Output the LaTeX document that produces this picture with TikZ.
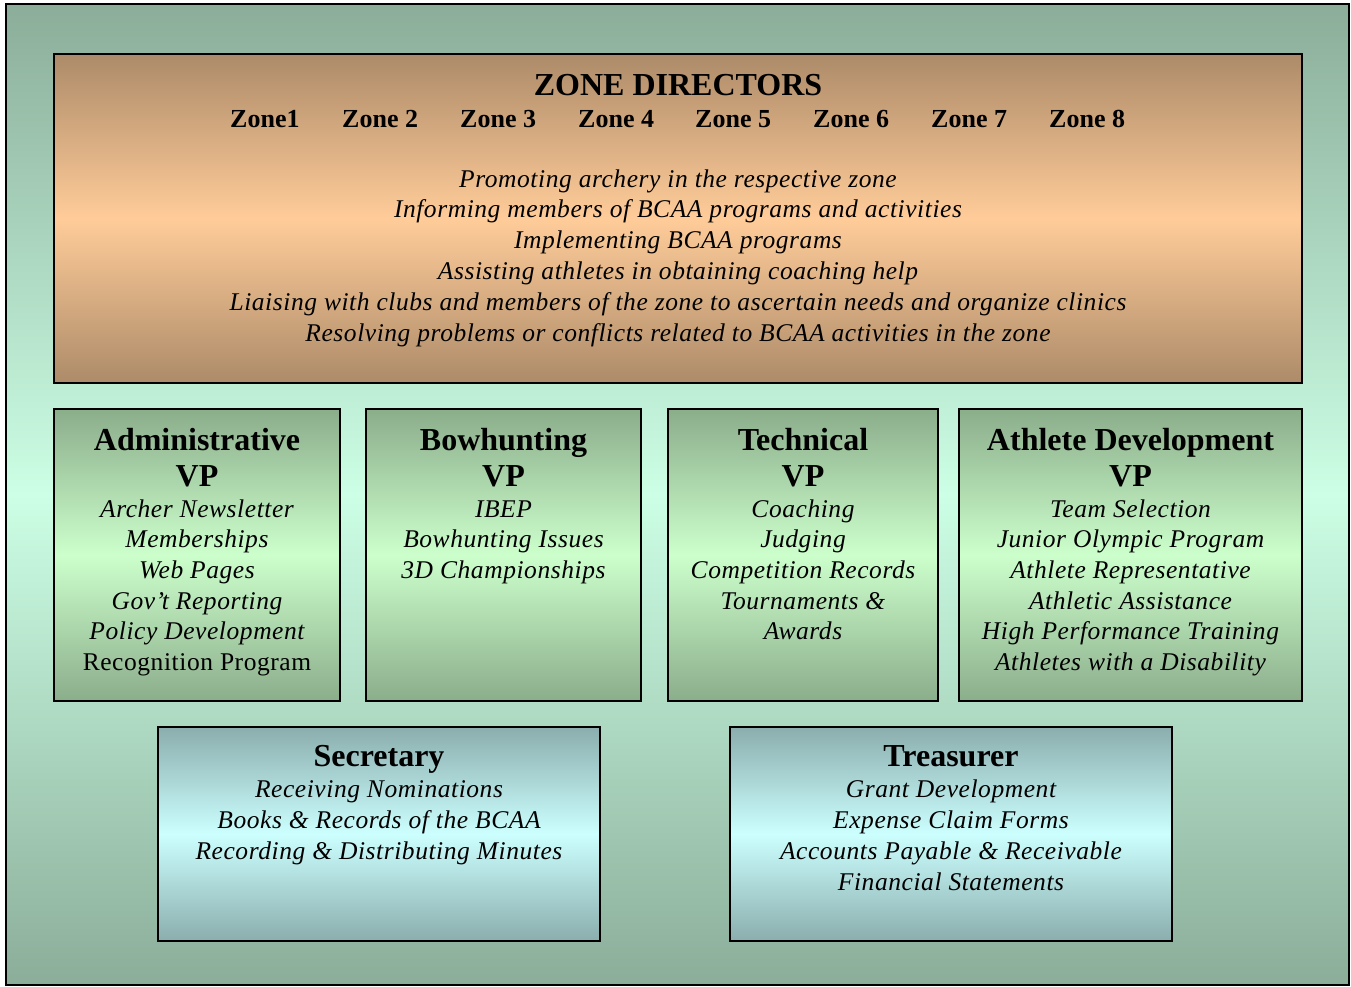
\documentclass[tikz,border=0pt]{standalone}
\usepackage{fontspec}
\setmainfont{Liberation Serif}
\newfontfamily\spacedserif{Liberation Serif}[LetterSpace=2.2]
\usetikzlibrary{calc}
\begin{document}
\begin{tikzpicture}[x=1pt,y=-1pt,
  box/.style={draw=black, line width=1.8pt, inner sep=0pt, outer sep=0pt, anchor=north west},
  zoneshade/.style={top color=zoneedge, bottom color=zoneedge, middle color=zonemid},
  vpshade/.style={top color=vpedge, bottom color=vpedge, middle color=vpmid},
  offshade/.style={top color=offedge, bottom color=offedge, middle color=offmid},
  bigttl/.style={font=\fontsize{32}{36}\selectfont\bfseries, anchor=base, inner sep=0pt},
  zonettl/.style={font=\fontsize{26}{30}\selectfont\bfseries, anchor=base west, inner sep=0pt},
  itm/.style={font=\spacedserif\fontsize{25.5}{31}\selectfont\itshape, anchor=base, inner sep=0pt}
]
\definecolor{bgedge}{HTML}{8BAD99}
\definecolor{bgmid}{HTML}{CCFFE5}
\definecolor{zoneedge}{HTML}{AD8B69}
\definecolor{zonemid}{HTML}{FFCC99}
\definecolor{vpedge}{HTML}{8BAD8B}
\definecolor{vpmid}{HTML}{CCFFCC}
\definecolor{offedge}{HTML}{8BADAD}
\definecolor{offmid}{HTML}{CCFFFF}
\useasboundingbox (0,0) rectangle (1351,986);
\fill[white] (0,0) rectangle (1351,986);
% background
\node[box, line width=1.5pt, top color=bgedge, bottom color=bgedge, middle color=bgmid,
  minimum width=1343pt, minimum height=981pt] (bg) at (6,4) {};
% zone directors
\node[box, zoneshade, minimum width=1248pt, minimum height=329pt] (zone) at (54,54) {};
\node[bigttl] (zonet) at (678,95) {ZONE DIRECTORS};
\foreach \z/\xx in {Zone1/230, Zone 2/342, Zone 3/460, Zone 4/578, Zone 5/695, Zone 6/813, Zone 7/931, Zone 8/1049}
  \node[zonettl] (z-\xx) at (\xx,127) {\z};
\foreach \t [count=\i] in {Promoting archery in the respective zone,
  Informing members of BCAA programs and activities,
  Implementing BCAA programs,
  Assisting athletes in obtaining coaching help,
  Liaising with clubs and members of the zone to ascertain needs and organize clinics,
  Resolving problems or conflicts related to BCAA activities in the zone}
  \node[itm] (zi-\i) at (678,{187+30.8*(\i-1)}) {\t};
% VP boxes
\node[box, vpshade, minimum width=286pt, minimum height=292pt] (adm) at (54,409) {};
\node[box, vpshade, minimum width=275pt, minimum height=292pt] (bow) at (366,409) {};
\node[box, vpshade, minimum width=270pt, minimum height=292pt] (tec) at (668,409) {};
\node[box, vpshade, minimum width=343pt, minimum height=292pt] (ath) at (959,409) {};
\node[bigttl] (adm-t) at (adm.center |- 0,450) {Administrative};
\node[bigttl] (bow-t) at (bow.center |- 0,450) {Bowhunting};
\node[bigttl] (tec-t) at (tec.center |- 0,450) {Technical};
\node[bigttl] (ath-t) at (ath.center |- 0,450) {Athlete Development};
\foreach \b in {adm,bow,tec,ath}
  \node[bigttl] (\b-vp) at (\b.center |- 0,486) {VP};
\foreach \t [count=\i] in {Archer Newsletter, Memberships, Web Pages, Gov’t Reporting, Policy Development, {\upshape Recognition Program}}
  \node[itm] (adm-\i) at ($(adm.center |- 0,517)+(0,{30.7*(\i-1)})$) {\t};
\foreach \t [count=\i] in {IBEP, Bowhunting Issues, 3D Championships}
  \node[itm] (bow-\i) at ($(bow.center |- 0,517)+(0,{30.7*(\i-1)})$) {\t};
\foreach \t [count=\i] in {Coaching, Judging, Competition Records, Tournaments \&, Awards}
  \node[itm] (tec-\i) at ($(tec.center |- 0,517)+(0,{30.7*(\i-1)})$) {\t};
\foreach \t [count=\i] in {Team Selection, Junior Olympic Program, Athlete Representative, Athletic Assistance, High Performance Training, Athletes with a Disability}
  \node[itm] (ath-\i) at ($(ath.center |- 0,517)+(0,{30.7*(\i-1)})$) {\t};
% officers
\node[box, offshade, minimum width=442pt, minimum height=214pt] (sec) at (158,727) {};
\node[box, offshade, minimum width=442pt, minimum height=214pt] (tre) at (730,727) {};
\node[bigttl] (sec-t) at (sec.center |- 0,766) {Secretary};
\node[bigttl] (tre-t) at (tre.center |- 0,766) {Treasurer};
\foreach \t [count=\i] in {Receiving Nominations, Books \& Records of the BCAA, Recording \& Distributing Minutes}
  \node[itm] (sec-\i) at ($(sec.center |- 0,797)+(0,{31.2*(\i-1)})$) {\t};
\foreach \t [count=\i] in {Grant Development, Expense Claim Forms, Accounts Payable \& Receivable, Financial Statements}
  \node[itm] (tre-\i) at ($(tre.center |- 0,797)+(0,{31.2*(\i-1)})$) {\t};
\end{tikzpicture}
\end{document}
